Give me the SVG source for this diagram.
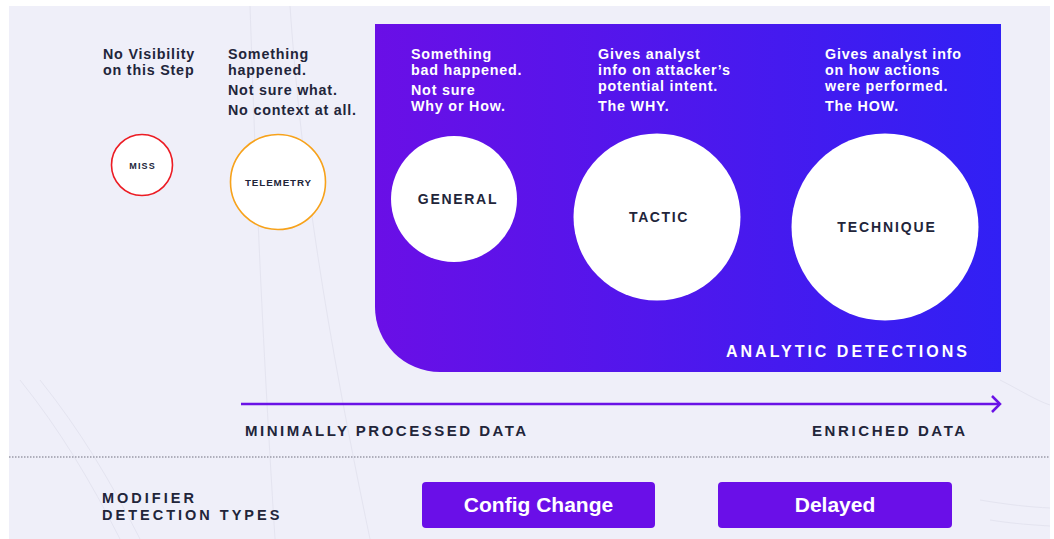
<svg xmlns="http://www.w3.org/2000/svg" width="1054" height="539" viewBox="0 0 1054 539">
<defs>
<linearGradient id="panelGrad" x1="0" y1="0" x2="1" y2="0">
<stop offset="0" stop-color="#6a0fe6"/>
<stop offset="1" stop-color="#3120f4"/>
</linearGradient>
<marker id="chev" viewBox="0 0 12 20" refX="10" refY="10" markerWidth="12" markerHeight="20" markerUnits="userSpaceOnUse" orient="auto">
<path d="M2,2 L10,10 L2,18" fill="none" stroke="#6a12e6" stroke-width="2.5"/>
</marker>
<style>
.t{font-family:"Liberation Sans",Arial,sans-serif;font-weight:700;font-size:14.3px;letter-spacing:0.8px;fill:#22253a}
.w{fill:#ffffff}
.cl{font-family:"Liberation Sans",Arial,sans-serif;font-weight:700;fill:#22253a;text-anchor:middle}
.cap{font-family:"Liberation Sans",Arial,sans-serif;font-weight:700;font-size:15px;letter-spacing:2.5px;fill:#22253a}
.btn{fill:#6a0fe8}
.bt{font-family:"Liberation Sans",Arial,sans-serif;font-weight:700;font-size:21px;fill:#ffffff;text-anchor:middle}
.deco{fill:none;stroke:#e4e4f0;stroke-width:1}
</style>
</defs>
<rect x="9" y="6" width="1041" height="533" fill="#efeff9"/>
<g id="decor">
<path class="deco" d="M250,6 C255,150 260,300 275,539"/>
<path class="deco" d="M290,6 C300,150 320,300 370,539"/>
<path class="deco" d="M20,380 C60,430 90,480 120,539"/>
<path class="deco" d="M40,380 C80,430 110,480 140,539"/>
<path class="deco" d="M1000,380 C1020,390 1035,400 1050,405"/>
<path class="deco" d="M980,500 C1010,505 1030,507 1050,508"/>
<path class="deco" d="M990,520 C1015,524 1035,525 1050,526"/>
</g>
<g id="panel">
<path d="M375,24 H1001 V372 H440 A65,65 0 0 1 375,307 Z" fill="url(#panelGrad)"/>
<text class="cap" x="726" y="357" style="fill:#fff;letter-spacing:3px;font-size:16px">ANALYTIC DETECTIONS</text>
</g>
<g id="miss">
<text class="t" x="103" y="59">No Visibility<tspan x="103" dy="16">on this Step</tspan></text>
<circle cx="142" cy="165" r="30.5" fill="#fff" stroke="#ec1c24" stroke-width="1.6"/>
<text class="cl" x="142.6" y="169" font-size="9" letter-spacing="1.2">MISS</text>
</g>
<g id="telemetry">
<text class="t" x="228" y="59">Something<tspan x="228" dy="16">happened.</tspan><tspan x="228" dy="20">Not sure what.</tspan><tspan x="228" dy="20">No context at all.</tspan></text>
<circle cx="278" cy="182" r="47.5" fill="#fff" stroke="#f7a21b" stroke-width="1.6"/>
<text class="cl" x="278.5" y="186" font-size="9.8" letter-spacing="0.9">TELEMETRY</text>
</g>
<g id="general">
<text class="t w" x="411" y="59">Something<tspan x="411" dy="16">bad happened.</tspan><tspan x="411" dy="20">Not sure</tspan><tspan x="411" dy="16">Why or How.</tspan></text>
<circle cx="454" cy="199" r="63" fill="#fff"/>
<text class="cl" x="458" y="204" font-size="14" letter-spacing="1.7">GENERAL</text>
</g>
<g id="tactic">
<text class="t w" x="598" y="59">Gives analyst<tspan x="598" dy="16">info on attacker’s</tspan><tspan x="598" dy="16">potential intent.</tspan><tspan x="598" dy="20">The WHY.</tspan></text>
<circle cx="657" cy="217" r="83.5" fill="#fff"/>
<text class="cl" x="659" y="222" font-size="14" letter-spacing="1.6">TACTIC</text>
</g>
<g id="technique">
<text class="t w" x="825" y="59">Gives analyst info<tspan x="825" dy="16">on how actions</tspan><tspan x="825" dy="16">were performed.</tspan><tspan x="825" dy="20">The HOW.</tspan></text>
<circle cx="885" cy="227" r="93.5" fill="#fff"/>
<text class="cl" x="887" y="232" font-size="14" letter-spacing="1.9">TECHNIQUE</text>
</g>
<g id="connectors">
<line x1="241" y1="404" x2="1000" y2="404" stroke="#6a12e6" stroke-width="2.5" marker-end="url(#chev)"/>
</g>
<g id="scale-labels">
<text class="cap" x="245" y="436">MINIMALLY PROCESSED DATA</text>
<text class="cap" x="812" y="436" style="letter-spacing:2.6px">ENRICHED DATA</text>
</g>
<line x1="9" y1="457" x2="1050" y2="457" stroke="#9a9aa8" stroke-width="1.5" stroke-dasharray="1.5,1.5"/>
<g id="modifier-label">
<text class="cap" x="102" y="503" style="font-size:14.5px;letter-spacing:3px">MODIFIER<tspan x="102" dy="17">DETECTION TYPES</tspan></text>
</g>
<g id="config-change">
<rect class="btn" x="422" y="482" width="233" height="46" rx="4"/>
<text class="bt" x="538.5" y="512">Config Change</text>
</g>
<g id="delayed">
<rect class="btn" x="718" y="482" width="234" height="46" rx="4"/>
<text class="bt" x="835" y="512">Delayed</text>
</g>
</svg>
